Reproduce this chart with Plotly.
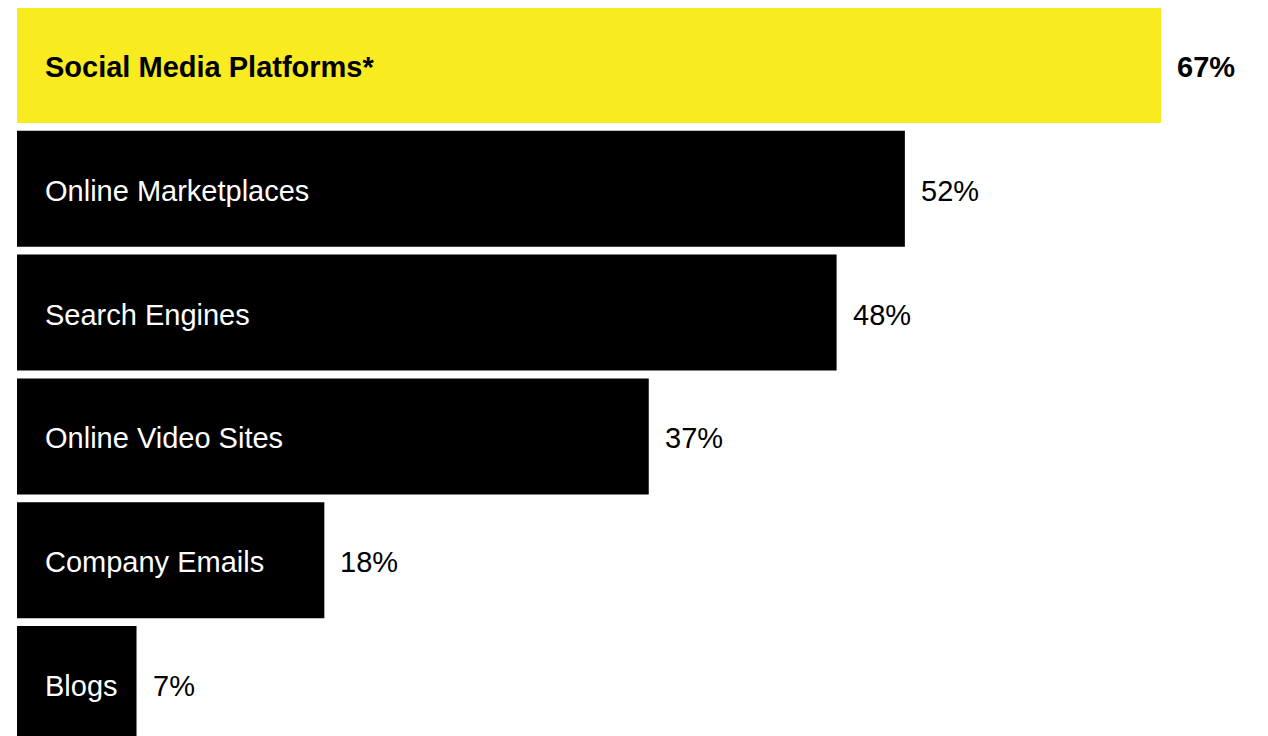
import plotly.graph_objects as go

categories = ["Social Media Platforms*", "Online Marketplaces", "Search Engines",
              "Online Video Sites", "Company Emails", "Blogs"]
values = [67, 52, 48, 37, 18, 7]
value_labels = ["67%", "52%", "48%", "37%", "18%", "7%"]
highlight = [True, False, False, False, False, False]

YELLOW = "#F8EB1F"
colors = [YELLOW if h else "#000000" for h in highlight]

fig = go.Figure(go.Bar(
    y=categories, x=values, orientation="h",
    marker=dict(color=colors, line=dict(width=0)),
    hoverinfo="skip",
))

FONT = "Liberation Sans, Arial, sans-serif"
ann = []
for c, v, lab, h in zip(categories, values, value_labels, highlight):
    ann.append(dict(x=0, y=c, xref="x", yref="y", text=f"<b>{c}</b>" if h else c,
                    showarrow=False, xanchor="left", yanchor="middle", xshift=26, yshift=-2,
                    font=dict(family=FONT, size=29, color="#000000" if h else "#ffffff")))
    ann.append(dict(x=v, y=c, xref="x", yref="y", text=f"<b>{lab}</b>" if h else lab,
                    showarrow=False, xanchor="left", yanchor="middle", xshift=14, yshift=-2,
                    font=dict(family=FONT, size=29, color="#000000")))

# page body has an 8px margin; figure is 1260x728 placed at (8, 8)
W, H = 1260, 728
px_per_unit = 1144 / 67
x0 = -9 / px_per_unit
x1 = x0 + W / px_per_unit
pitch = 123.8
y_top = -57 / pitch
y_bot = (H - 57) / pitch

fig.update_layout(
    width=W, height=H,
    margin=dict(l=0, r=0, t=0, b=0),
    paper_bgcolor="white", plot_bgcolor="white",
    bargap=0.063,
    showlegend=False,
    annotations=ann,
    xaxis=dict(range=[x0, x1], visible=False, fixedrange=True),
    yaxis=dict(range=[y_bot, y_top], visible=False, fixedrange=True,
               categoryorder="array", categoryarray=categories),
)

fig.write_html("out.html", config={"displayModeBar": False})
